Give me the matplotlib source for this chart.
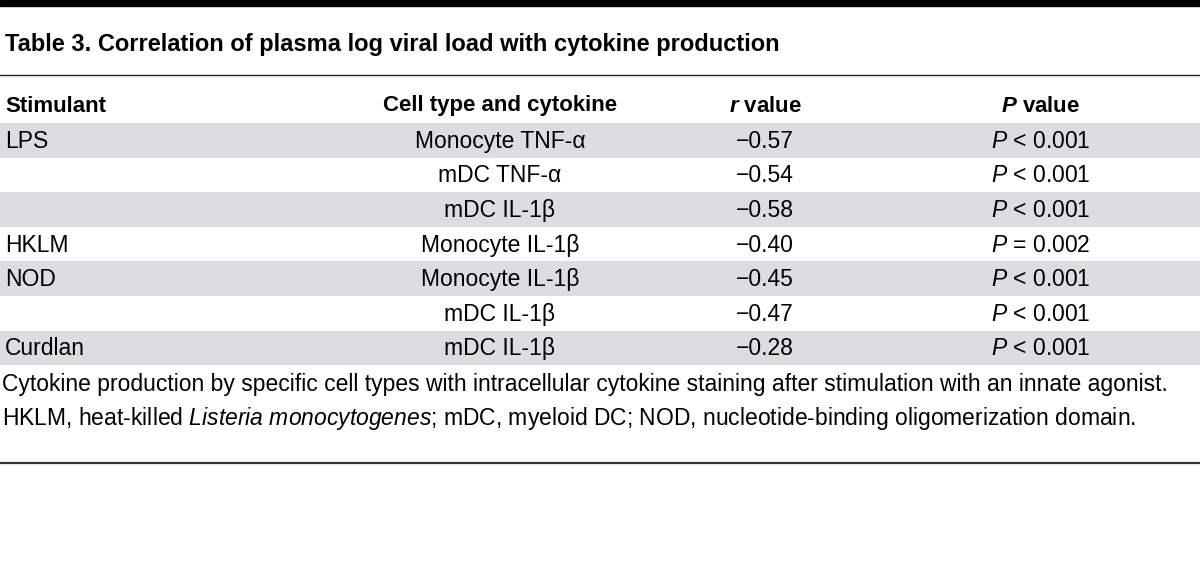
import matplotlib.pyplot as plt
from matplotlib.patches import Rectangle

# -------------------------------
# Table data
# -------------------------------
title = "Table 3. Correlation of plasma log viral load with cytokine production"
headers = ["Stimulant", "Cell type and cytokine", "$\\mathbfit{r}$ value", "$\\mathbfit{P}$ value"]
stimulants = ["LPS", "", "", "HKLM", "NOD", "", "Curdlan"]
cell_cytokines = ["Monocyte TNF-α", "mDC TNF-α", "mDC IL-1β", "Monocyte IL-1β",
                  "Monocyte IL-1β", "mDC IL-1β", "mDC IL-1β"]
r_values = [-0.57, -0.54, -0.58, -0.40, -0.45, -0.47, -0.28]
p_signs = ["<", "<", "<", "=", "<", "<", "<"]
p_values = ["0.001", "0.001", "0.001", "0.002", "0.001", "0.001", "0.001"]
footnote = ["Cytokine production by specific cell types with intracellular cytokine staining after stimulation with an innate agonist.",
            "HKLM, heat-killed $\\it{Listeria\\ monocytogenes}$; mDC, myeloid DC; NOD, nucleotide-binding oligomerization domain."]

family = "Liberation Sans"
plt.rcParams["font.family"] = [family, "DejaVu Sans"]
plt.rcParams["mathtext.fontset"] = "custom"
plt.rcParams["mathtext.rm"] = family
plt.rcParams["mathtext.it"] = family + ":italic"
plt.rcParams["mathtext.bf"] = family + ":bold"
plt.rcParams["mathtext.bfit"] = family + ":bold:italic"

W, H = 1200, 579
fig = plt.figure(figsize=(12, 5.79), dpi=100)
ax = fig.add_axes([0, 0, 1, 1])
ax.set_xlim(0, W)
ax.set_ylim(H, 0)
ax.axis("off")

# rules
ax.add_patch(Rectangle((0, 0), W, 6, color="black"))
ax.plot([0, W], [75, 75], color="#222222", lw=1.0)
ax.plot([0, W], [463, 463], color="#333333", lw=1.6)

ax.text(5, 44, title, fontsize=17, fontweight="bold", va="center", ha="left")

# header row
hs = 16
fs = 16.5
col_x = [5, 500, 765, 1041]
ax.text(col_x[0], 106, headers[0], fontsize=hs, fontweight="bold", va="center", ha="left")
for x, h in zip(col_x[1:], headers[1:]):
    ax.text(x, 106, h, fontsize=hs, fontweight="bold", va="center", ha="center")

# body rows
row0, row_h = 123, 34.6
for i in range(len(stimulants)):
    top = row0 + i * row_h
    if i % 2 == 0:
        ax.add_patch(Rectangle((0, top), W, row_h, color="#dcdde0", lw=0))
    yc = top + row_h / 2 + 1
    ax.text(col_x[0], yc, stimulants[i], fontsize=fs, va="center", ha="left")
    ax.text(col_x[1], yc, cell_cytokines[i], fontsize=fs, va="center", ha="center")
    ax.text(col_x[2], yc, "\u2212%.2f" % abs(r_values[i]), fontsize=fs, va="center", ha="center")
    ax.text(col_x[3], yc, "$\\it{P}$ %s %s" % (p_signs[i], p_values[i]), fontsize=fs,
            va="center", ha="center")

ax.text(2, 385, footnote[0], fontsize=fs, va="center", ha="left")
ax.text(2, 419, footnote[1], fontsize=fs, va="center", ha="left")

fig.savefig("out.png", dpi=100)
